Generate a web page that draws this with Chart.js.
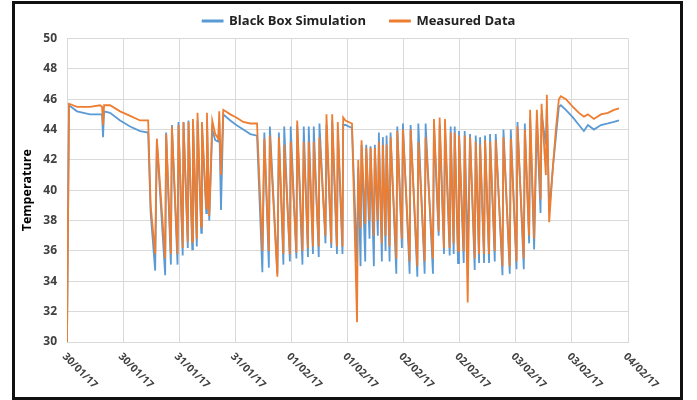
<!DOCTYPE html>
<html>
<head>
<meta charset="utf-8">
<script src="https://cdn.jsdelivr.net/npm/chart.js@4.4.0/dist/chart.umd.min.js"></script>
<style>
    html, body { margin: 0; padding: 0; background: #fff; }
    #wrap { position: relative; width: 697px; height: 400px; }
</style>
</head>
<body>
<div id="wrap"><canvas id="chart"></canvas></div>
<script>
// hours since 30/01/17 00:00
const hours = [
    0, 0.43, 2.14, 4.93, 7.07, 7.5, 7.71, 7.93, 9.21, 11.36, 13.5, 15.64, 17.36, 17.89,
    18.86, 19.22, 21.0, 21.21, 22.22, 22.44, 23.64, 23.85, 24.75, 24.92, 25.84, 25.99, 26.79, 26.94,
    27.77, 27.92, 28.71, 28.86, 29.79, 29.94, 30.43, 31.07, 31.71, 32.36, 32.57, 32.94, 33.43,
    34.93, 36.21, 37.71, 39.21, 40.65,
    41.79, 42.21, 43.18, 43.39, 45.0, 45.32, 46.29, 46.46, 47.68, 47.85, 49.07, 49.24, 50.36, 50.64,
    51.54, 51.71, 52.61, 52.78, 53.85, 54.0, 55.29, 55.5, 56.53, 56.72, 57.75, 57.92, 58.93, 59.08, 59.57, 60.96,
    62.04, 62.29, 62.79, 63.0, 63.79, 64.01, 64.71, 64.93, 65.64, 65.85,
    66.49, 66.71, 67.35, 67.56, 68.14, 68.36, 69.0, 69.21, 70.44, 70.65,
    71.64, 71.85, 73.29, 73.5, 74.94, 75.15, 76.5, 76.71, 78.28, 78.49,
    79.5, 79.71, 80.64, 80.85, 81.86, 82.07, 82.71, 82.93, 83.64, 83.85,
    84.86, 85.07, 85.71, 86.21, 87.21, 87.43, 88.14, 88.35, 89.21, 89.42,
    90.28, 90.49, 91.5, 91.71, 93.15, 93.36, 94.71, 94.93, 96.15, 96.36,
    97.71, 97.93, 98.85, 99.06, 99.92, 100.5, 101.29, 101.51, 102.43, 102.64,
    103.14, 103.93, 104.57, 105.21, 105.64,
    106.71, 108.21, 109.5, 110.57, 111.43, 112.71, 114.21, 115.71, 117.0, 118.07
];

const blackBox = [
    30, 45.6, 45.2, 45.0, 45.0, 45.0, 43.5, 45.2, 45.1, 44.6, 44.2, 43.9, 43.8, 38.5,
    34.7, 43.2, 34.4, 43.8, 35.1, 44.3, 35.1, 44.5, 35.7, 44.5, 36.2, 44.6, 36.1, 44.5,
    36.3, 44.6, 37.2, 44.3, 38.5, 44.6, 38.0, 44.0, 43.3, 43.2, 44.5, 38.7, 45.0,
    44.6, 44.3, 44.0, 43.7, 43.6,
    34.6, 43.8, 34.9, 44.2, 34.5, 43.8, 35.1, 44.2, 35.3, 44.2, 35.5, 44.3, 35.1, 44.2,
    35.6, 44.2, 35.8, 44.2, 35.6, 44.4, 36.5, 44.3, 36.2, 44.6, 35.8, 44.0, 35.8, 44.3, 44.3, 44.1,
    35.2, 41.5, 35.0, 43.0, 35.3, 43.0, 36.8, 42.9, 35.0, 43.0,
    37.0, 43.8, 35.3, 43.5, 36.0, 43.6, 35.3, 43.8, 34.5, 44.2,
    36.2, 44.4, 34.5, 44.3, 34.3, 44.4, 34.5, 44.4, 34.5, 44.3,
    37.0, 44.3, 35.8, 44.1, 35.7, 44.2, 35.8, 44.2, 35.2, 43.9,
    35.2, 43.9, 35.5, 43.7, 34.75, 43.6, 35.2, 43.5, 35.2, 43.6,
    35.2, 43.7, 35.3, 43.7, 34.4, 44.0, 34.5, 44.0, 34.8, 44.5,
    34.8, 44.4, 36.5, 44.8, 36.1, 44.6, 38.5, 45.0, 43.0, 45.5,
    38.6, 41.5, 43.5, 45.5, 45.6,
    45.3, 44.8, 44.3, 43.9, 44.3, 44.0, 44.3, 44.4, 44.5, 44.6
];

const measured = [
    30, 45.7, 45.5, 45.5, 45.6, 45.5, 44.3, 45.6, 45.6, 45.2, 44.9, 44.6, 44.6, 39.0,
    35.8, 43.4, 35.5, 43.7, 35.8, 44.2, 35.8, 44.3, 36.2, 44.5, 36.6, 44.5, 36.6, 44.7,
    36.8, 45.1, 37.6, 44.5, 38.8, 45.1, 38.3, 44.6, 43.7, 43.4, 45.2, 41.0, 45.3,
    45.0, 44.8, 44.5, 44.4, 44.4,
    36.0, 43.4, 36.0, 43.6, 34.3, 43.5, 35.8, 43.0, 35.8, 43.2, 35.9, 44.6, 36.0, 43.2,
    36.2, 43.2, 36.3, 43.2, 36.3, 43.5, 37.0, 45.0, 36.5, 45.0, 36.3, 44.5, 36.3, 44.8, 44.6, 44.4,
    31.3, 42.0, 37.5, 43.3, 37.8, 42.8, 38.0, 42.8, 37.0, 42.8,
    38.0, 43.2, 36.5, 43.0, 37.0, 43.0, 36.3, 43.5, 35.5, 43.9,
    36.8, 44.0, 35.3, 44.0, 35.0, 43.2, 35.3, 43.5, 35.5, 44.7,
    37.3, 44.8, 36.2, 44.7, 36.2, 43.8, 36.5, 43.8, 36.0, 43.6,
    36.0, 43.6, 32.6, 43.5, 35.5, 43.2, 35.8, 43.0, 35.8, 43.3,
    35.8, 43.2, 36.0, 43.3, 35.0, 43.5, 35.0, 43.4, 35.3, 44.2,
    35.5, 44.0, 37.0, 45.3, 36.8, 45.3, 39.4, 45.7, 41.0, 46.3,
    37.9, 41.5, 44.0, 46.0, 46.2,
    46.0, 45.5, 45.1, 44.85, 45.0, 44.7, 45.0, 45.1, 45.3, 45.4
];

const xTickLabels = ['30/01/17', '30/01/17', '31/01/17', '31/01/17', '01/02/17', '01/02/17',
    '02/02/17', '02/02/17', '03/02/17', '03/02/17', '04/02/17'];

const FONT = '"Open Sans", "Liberation Sans", sans-serif';
const GRID = '#d9d9d9';

const toPoints = (ys) => hours.map((h, i) => ({ x: h, y: ys[i] }));

const frame = {
    id: 'frame',
    afterLayout(chart) {
        // legend sits right of centre in the original
        const lg = chart.legend;
        lg.left += 35;
        lg.right += 35;
        lg.top -= 1;
        lg.bottom -= 1;
    },
    beforeDraw(chart) {
        const { ctx } = chart;
        ctx.save();
        ctx.fillStyle = '#fff';
        ctx.fillRect(0, 0, chart.width, chart.height);
        ctx.restore();
    },
    afterDraw(chart) {
        const { ctx } = chart;
        const xs = chart.scales.x;
        ctx.save();
        ctx.strokeStyle = '#111';
        ctx.lineWidth = 3;
        ctx.strokeRect(13.5, 2.5, 668, 396);

        // slanted date labels, reading downwards from each tick
        ctx.fillStyle = '#404040';
        ctx.font = 'bold 10.5px ' + FONT;
        ctx.textAlign = 'left';
        ctx.textBaseline = 'middle';
        xs.ticks.forEach((t, i) => {
            const px = xs.getPixelForValue(t.value);
            ctx.save();
            ctx.translate(px - 3, xs.top + 13);
            ctx.rotate(Math.PI / 4);
            ctx.fillText(xTickLabels[i] || '', 0, 0);
            ctx.restore();
        });
        ctx.restore();
    }
};

new Chart(document.getElementById('chart'), {
    type: 'line',
    data: {
        datasets: [{
            label: 'Black Box Simulation',
            data: toPoints(blackBox),
            borderColor: '#5B9BD5',
            backgroundColor: '#5B9BD5',
            borderWidth: 1.8,
            pointRadius: 0,
            order: 1,
        }, {
            label: 'Measured Data',
            data: toPoints(measured),
            borderColor: '#ED7D31',
            backgroundColor: '#ED7D31',
            borderWidth: 1.8,
            pointRadius: 0,
            order: 0,
        }],
    },
    options: {
        responsive: true,
        maintainAspectRatio: false,
        animation: false,
        layout: { padding: { left: 20, right: 69, top: -8.5, bottom: 0 } },
        plugins: {
            legend: {
                position: 'top',
                labels: {
                    boxWidth: 20,
                    boxHeight: 1,
                    padding: 24,
                    color: '#222',
                    font: { family: FONT, size: 13, weight: 'bold' },
                    sort: (a, b) => a.datasetIndex - b.datasetIndex,
                },
            },
            tooltip: { enabled: false },
        },
        scales: {
            x: {
                type: 'linear',
                min: 0,
                max: 120,
                ticks: { stepSize: 12, display: false },
                grid: { color: GRID, drawTicks: false },
                border: { color: GRID },
                afterFit: (s) => { s.height = 58; },
            },
            y: {
                min: 30,
                max: 50,
                ticks: {
                    stepSize: 2,
                    padding: 10,
                    color: '#404040',
                    font: { family: FONT, size: 12, weight: 'bold' },
                },
                grid: { color: GRID, drawTicks: false },
                border: { display: false },
                title: {
                    display: true,
                    text: 'Temperature',
                    color: '#000',
                    padding: 0,
                    font: { family: FONT, size: 12.5, weight: 'bold' },
                },
                afterFit: (s) => { s.width = 47; },
            },
        },
    },
    plugins: [frame],
});
</script>
</body>
</html>
